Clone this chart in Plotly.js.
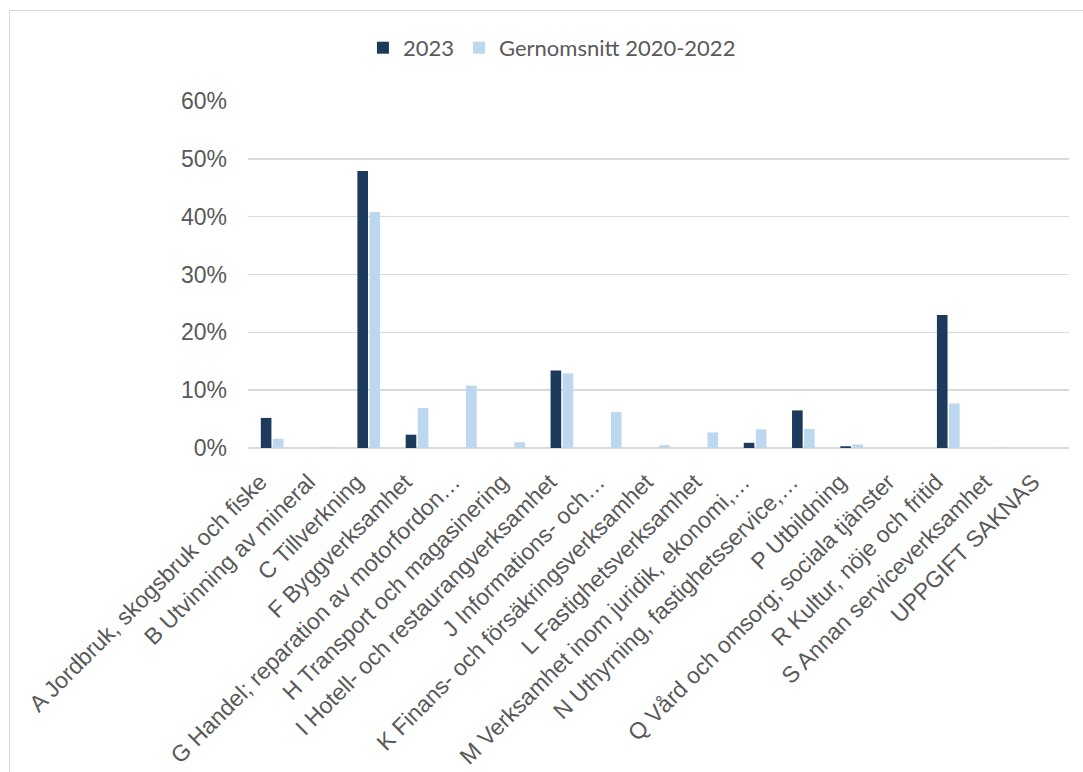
<!DOCTYPE html>
<html>
<head>
<meta charset="utf-8">
<script src="https://cdn.plot.ly/plotly-3.0.1.min.js"></script>
<style>
html,body{margin:0;padding:0;background:#fff;}
#wrap{position:relative;width:1083px;height:772px;}
#chart{width:1083px;height:772px;}
#frame{position:absolute;left:9px;top:10px;width:1100px;height:800px;border-left:1.5px solid #d9d9d9;border-top:1.5px solid #d9d9d9;pointer-events:none;}
</style>
</head>
<body>
<div id="wrap"><div id="chart"></div><div id="frame"></div></div>
<script>
const categories = [
  "A Jordbruk, skogsbruk och fiske",
  "B Utvinning av mineral",
  "C Tillverkning",
  "F Byggverksamhet",
  "G Handel; reparation av motorfordon…",
  "H Transport och magasinering",
  "I Hotell- och restaurangverksamhet",
  "J Informations- och…",
  "K Finans- och försäkringsverksamhet",
  "L Fastighetsverksamhet",
  "M Verksamhet inom juridik, ekonomi,…",
  "N Uthyrning, fastighetsservice,…",
  "P Utbildning",
  "Q Vård och omsorg; sociala tjänster",
  "R Kultur, nöje och fritid",
  "S Annan serviceverksamhet",
  "UPPGIFT SAKNAS"
];
const values2023 = [0.052, 0, 0.479, 0.023, 0, 0, 0.134, 0, 0, 0, 0.009, 0.065, 0.003, 0, 0.230, 0, 0];
const valuesAvg = [0.016, 0.001, 0.408, 0.069, 0.108, 0.010, 0.129, 0.062, 0.005, 0.027, 0.032, 0.033, 0.006, 0, 0.077, 0.001, 0];
const yTicks = [0, 0.1, 0.2, 0.3, 0.4, 0.5, 0.6];
const yTickLabels = ["0%", "10%", "20%", "30%", "40%", "50%", "60%"];

const traces = [
  {type:"bar", name:"2023", x:categories, y:values2023,
   marker:{color:"#1b3a5c", line:{width:0}}},
  {type:"bar", name:"Gernomsnitt 2020-2022", x:categories, y:valuesAvg,
   marker:{color:"#bdd7ee", line:{width:0}}}
];

const layout = {
  width:1083, height:772,
  margin:{l:248, r:14, t:101, b:324, pad:0},
  paper_bgcolor:"#ffffff", plot_bgcolor:"#ffffff",
  barmode:"group", bargap:0.5, bargroupgap:0.12,
  font:{family:"Liberation Sans, Arial, sans-serif", color:"#595959"},
  showlegend:true,
  legend:{orientation:"h", x:0.14, xanchor:"left", y:1.153, yanchor:"middle",
    font:{family:"Lato, sans-serif", size:22, color:"#595959"},
    itemwidth:30, traceorder:"normal", bgcolor:"rgba(0,0,0,0)"},
  xaxis:{type:"category", tickangle:-45, tickfont:{size:23, color:"#595959"},
    showgrid:false, showline:false, zeroline:false, ticks:"", automargin:false,
    ticklabelshift:-12, ticklabelstandoff:15},
  yaxis:{range:[0,0.6], tickvals:yTicks, ticktext:yTickLabels,
    tickfont:{size:23, color:"#595959"}, showgrid:true, gridcolor:"#d9d9d9", gridwidth:1.5,
    zeroline:true, zerolinecolor:"#d9d9d9", zerolinewidth:1.5, showline:false, ticks:"",
    ticklabelstandoff:20, automargin:false, fixedrange:true}
};
Plotly.newPlot("chart", traces, layout, {displayModeBar:false, staticPlot:true});
</script>
</body>
</html>
